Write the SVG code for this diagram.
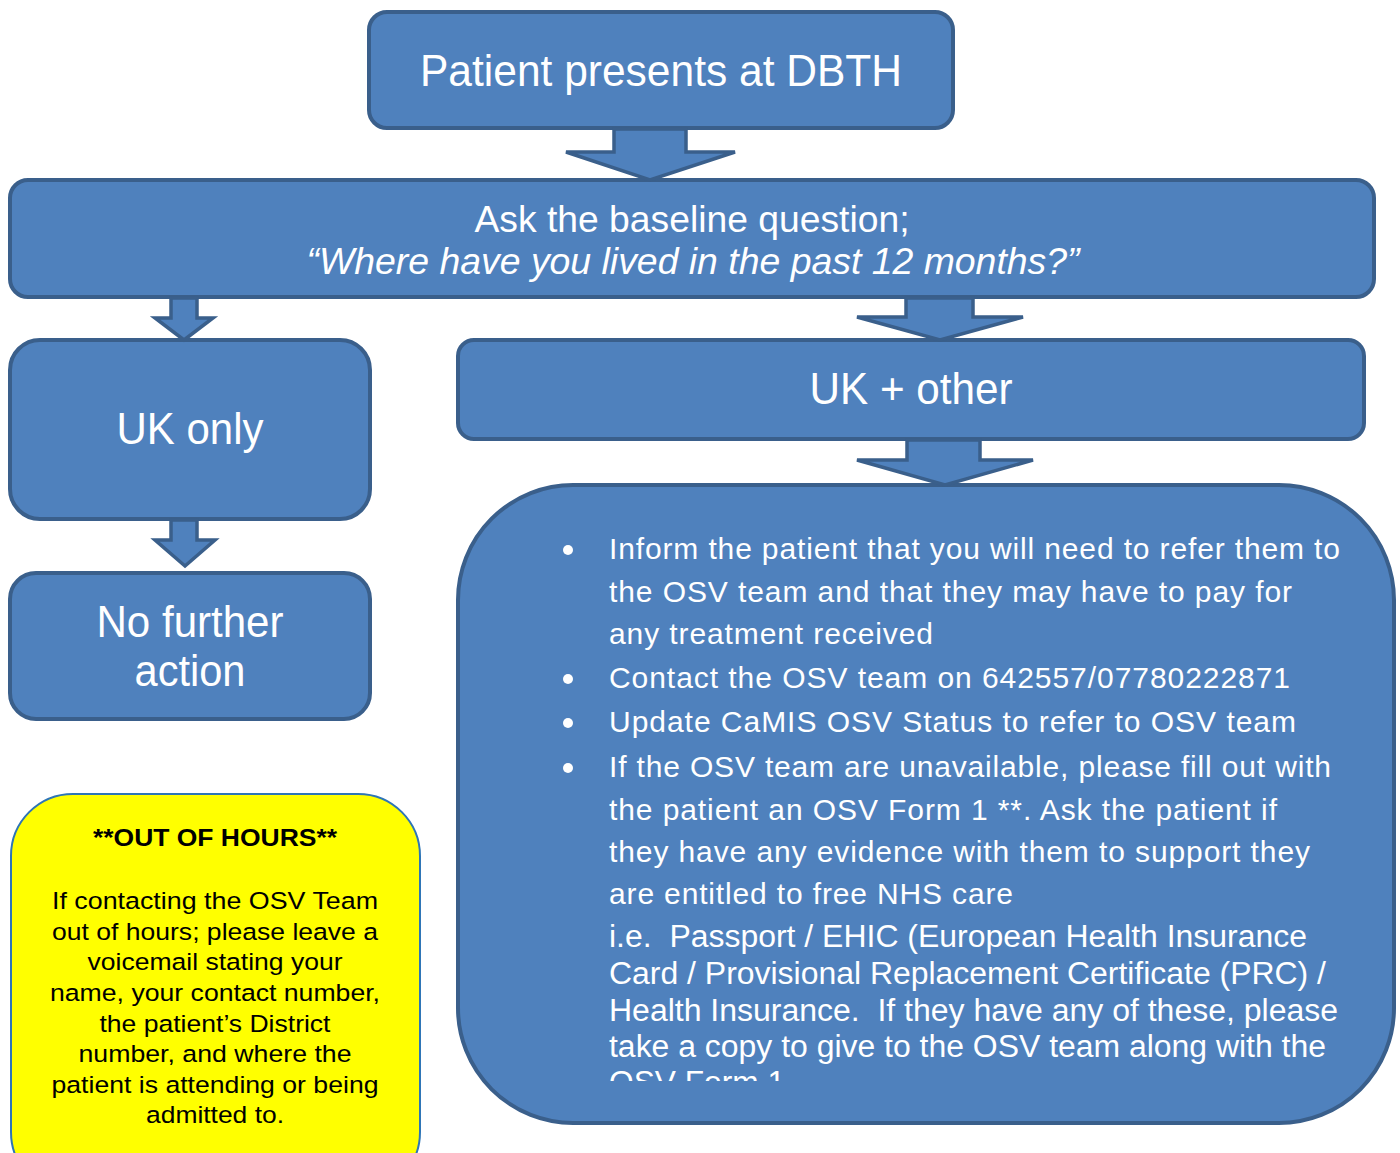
<svg xmlns="http://www.w3.org/2000/svg" width="1400" height="1153" viewBox="0 0 1400 1153">
<defs>
<style>
.box{fill:#4F81BD;stroke:#3A5F8B;stroke-width:4}
.arr{fill:#4F81BD;stroke:#3A5F8B;stroke-width:3.5;stroke-linejoin:miter}
.t{font-family:"Liberation Sans",Arial,sans-serif;fill:#FFFFFF}
.big{font-size:44px;text-anchor:middle}
.mid{font-size:37px;text-anchor:middle}
.bul{font-size:30px}
.cond{font-size:31px}
.y{font-family:"Liberation Sans",Arial,sans-serif;fill:#000000;font-size:24.5px;text-anchor:middle}
</style>
<clipPath id="clipBig"><rect x="458" y="485" width="940" height="596"/></clipPath>
</defs>
<rect width="1400" height="1153" fill="#FFFFFF"/>

<g id="n-patient">
<rect class="box" x="369" y="12" width="584" height="116" rx="18"/>
<text class="t big" x="661" y="86" textLength="482" lengthAdjust="spacingAndGlyphs">Patient presents at DBTH</text>
</g>

<g id="n-baseline">
<rect class="box" x="10" y="180" width="1364" height="117" rx="18"/>
<text class="t mid" x="692" y="232" textLength="435" lengthAdjust="spacingAndGlyphs">Ask the baseline question;</text>
<text class="t mid" x="693" y="274" font-style="italic" textLength="773" lengthAdjust="spacingAndGlyphs">“Where have you lived in the past 12 months?”</text>
</g>

<g id="n-ukonly">
<rect class="box" x="10" y="340" width="360" height="179" rx="30"/>
<text class="t big" x="190" y="444" textLength="147" lengthAdjust="spacingAndGlyphs">UK only</text>
</g>

<g id="n-ukother">
<rect class="box" x="458" y="340" width="906" height="99" rx="16"/>
<text class="t big" x="911" y="404" textLength="203" lengthAdjust="spacingAndGlyphs">UK + other</text>
</g>

<g id="n-nofurther">
<rect class="box" x="10" y="573" width="360" height="146" rx="26"/>
<text class="t big" x="190" y="637" textLength="187" lengthAdjust="spacingAndGlyphs">No further</text>
<text class="t big" x="190" y="686" textLength="111" lengthAdjust="spacingAndGlyphs">action</text>
</g>

<g id="n-osv">
<rect class="box" x="458" y="485" width="936" height="638" rx="115"/>
<g fill="#FFFFFF">
<circle cx="568" cy="550" r="5"/>
<circle cx="568" cy="679" r="5"/>
<circle cx="568" cy="723" r="5"/>
<circle cx="568" cy="768" r="5"/>
</g>
<g class="t" clip-path="url(#clipBig)">
<g class="bul">
<text x="609" y="559" textLength="731">Inform the patient that you will need to refer them to</text>
<text x="609" y="602" textLength="683">the OSV team and that they may have to pay for</text>
<text x="609" y="644" textLength="324">any treatment received</text>
<text x="609" y="688" textLength="681">Contact the OSV team on 642557/07780222871</text>
<text x="609" y="732" textLength="687">Update CaMIS OSV Status to refer to OSV team</text>
<text x="609" y="777" textLength="722">If the OSV team are unavailable, please fill out with</text>
<text x="609" y="820" textLength="668">the patient an OSV Form 1 **. Ask the patient if</text>
<text x="609" y="862" textLength="701">they have any evidence with them to support they</text>
<text x="609" y="904" textLength="404">are entitled to free NHS care</text>
</g>
<g class="cond">
<text x="609" y="947" textLength="698" lengthAdjust="spacingAndGlyphs">i.e.&#160; Passport / EHIC (European Health Insurance</text>
<text x="609" y="984" textLength="717" lengthAdjust="spacingAndGlyphs">Card / Provisional Replacement Certificate (PRC) /</text>
<text x="609" y="1021" textLength="729" lengthAdjust="spacingAndGlyphs">Health Insurance.&#160; If they have any of these, please</text>
<text x="609" y="1057" textLength="717" lengthAdjust="spacingAndGlyphs">take a copy to give to the OSV team along with the</text>
<text x="609" y="1093" textLength="176" lengthAdjust="spacingAndGlyphs">OSV Form 1</text>
</g>
</g>
</g>

<g id="n-outofhours">
<rect x="11" y="794" width="409" height="400" rx="62" fill="#FFFF00" stroke="#2E75B6" stroke-width="2"/>
<text class="y" x="215" y="846" font-weight="bold" textLength="244" lengthAdjust="spacingAndGlyphs">**OUT OF HOURS**</text>
<text class="y" x="215" y="909" textLength="326" lengthAdjust="spacingAndGlyphs">If contacting the OSV Team</text>
<text class="y" x="215" y="940" textLength="326" lengthAdjust="spacingAndGlyphs">out of hours; please leave a</text>
<text class="y" x="215" y="970" textLength="255" lengthAdjust="spacingAndGlyphs">voicemail stating your</text>
<text class="y" x="215" y="1001" textLength="330" lengthAdjust="spacingAndGlyphs">name, your contact number,</text>
<text class="y" x="215" y="1032" textLength="231" lengthAdjust="spacingAndGlyphs">the patient’s District</text>
<text class="y" x="215" y="1062" textLength="273" lengthAdjust="spacingAndGlyphs">number, and where the</text>
<text class="y" x="215" y="1093" textLength="327" lengthAdjust="spacingAndGlyphs">patient is attending or being</text>
<text class="y" x="215" y="1123" textLength="138" lengthAdjust="spacingAndGlyphs">admitted to.</text>
</g>

<g id="connectors">
<polygon class="arr" points="614,129 686,129 686,152 735,152 650,180 566,152 614,152"/>
<polygon class="arr" points="171,298 197,298 197,318 213,318 184,340 155,318 171,318"/>
<polygon class="arr" points="906,298 973,298 973,317 1023,317 940,340 857,317 906,317"/>
<polygon class="arr" points="171,520 197,520 197,540 215,540 185,566 155,540 171,540"/>
<polygon class="arr" points="907,440 980,440 980,460 1033,460 945,485 857,460 907,460"/>
</g>
</svg>
